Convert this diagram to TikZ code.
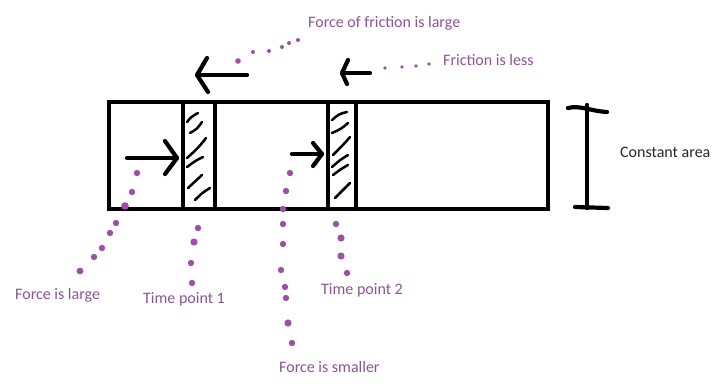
\documentclass[tikz,border=0pt]{standalone}
\usepackage{fontspec}
\setmainfont{Carlito}
\definecolor{dotc}{RGB}{155,82,165}
\definecolor{txtc}{RGB}{140,84,150}
\begin{document}
\begin{tikzpicture}[x=1pt,y=-1pt,
  blk/.style={line width=4.2pt, line cap=round, line join=round},
  hatch/.style={line width=2.5pt, line cap=round},
  lbl/.style={text=txtc, font=\fontsize{16}{18}\selectfont, inner sep=0pt, anchor=mid west},
  dotl/.style={fill=dotc}]
\useasboundingbox (0,0) rectangle (723,383);
\fill[white] (0,0) rectangle (723,383);
% tube
\draw[line width=4.5pt] (109,102) rectangle (548,209);
\draw[line width=4.2pt] (183,102) -- (183,209) (215,102) -- (215,209);
\draw[line width=4.2pt] (328,102) -- (328,209) (356,102) -- (356,209);
% hatching piston 1
\draw[hatch] (187,122) .. controls (191,117) .. (198,113);
\draw[hatch] (190,133) .. controls (197,129) .. (202,122);
\draw[hatch] (187,158) .. controls (196,150) and (200,146) .. (206,138);
\draw[hatch] (187,167) .. controls (195,161) .. (203,157);
\draw[hatch] (188,188) .. controls (195,182) .. (202,175);
\draw[hatch] (195,200) .. controls (202,193) .. (210,188);
% hatching piston 2
\draw[hatch] (332,120) .. controls (339,114) .. (347,112);
\draw[hatch] (332,133) .. controls (341,129) .. (348,123);
\draw[hatch] (333,155) .. controls (340,148) and (345,143) .. (350,137);
\draw[hatch] (332,167) .. controls (340,160) .. (348,155);
\draw[hatch] (333,175) .. controls (341,169) .. (348,165);
\draw[hatch] (335,198) .. controls (342,190) .. (350,183);
% arrows
\coordinate (a1s) at (127,158); \coordinate (a1e) at (177,158);
\draw[blk] (a1s) -- (a1e);
\draw[blk] (165,141) -- (a1e) -- (165,174);
\coordinate (a2s) at (292,154); \coordinate (a2e) at (322,154);
\draw[blk] (a2s) -- (a2e);
\draw[blk] (313,143) -- (a2e) -- (313,166);
\coordinate (t1s) at (247,75); \coordinate (t1e) at (197,75);
\draw[blk] (t1s) -- (t1e);
\draw[blk] (207,58) -- (t1e) -- (208,92);
\coordinate (t2s) at (370,73); \coordinate (t2e) at (342,73);
\draw[blk] (t2s) -- (t2e);
\draw[blk] (348,60) -- (t2e) -- (347,84);
% bracket
\draw[blk] (587,105) -- (587,208);
\draw[blk] (568,108) .. controls (580,105) and (590,111) .. (607,112);
\draw[blk] (575,207) -- (608,208);
% dots
\foreach \x/\y/\r in {137/173/3.2,132/192/3.2,125/206/3.8,116/223/3.2,110/233/3.2,102/248/3.2,94/257/3.2,80/271/3.4,
  198/228/3.2,194/242/3.6,191/263/3.2,192/283/3.2,
  290/173/3.2,286/191/3.2,283/209/3.2,283/224/3.2,283/244/3.2,281/270/3.2,285/287/3.2,286/298/3.2,288/323/3.6,292/343/3.2,
  336/224/3.2,341/238/3.6,341/256/3.6,347/273/3.2,
  238/61/2.8,253/52/2,269/51/2,282/47/2,289/43/2,298/40/2,
  385/68/1.8,402/67/1.8,416/66/1.8,429/64/1.8}
  \fill[dotl] (\x,\y) circle (\r pt);
% labels
\node[lbl] (ffl) at (308,25) {Force of friction is large};
\node[lbl] (fil) at (443,63) {Friction is less};
\node[lbl, text=black!85] (ca) at (620,155) {Constant area};
\node[lbl] (fla) at (15,297) {Force is large};
\node[lbl] (tp1) at (143,301) {Time point 1};
\node[lbl] (tp2) at (321,292) {Time point 2};
\node[lbl] (fsm) at (279,370) {Force is smaller};
\end{tikzpicture}
\end{document}
